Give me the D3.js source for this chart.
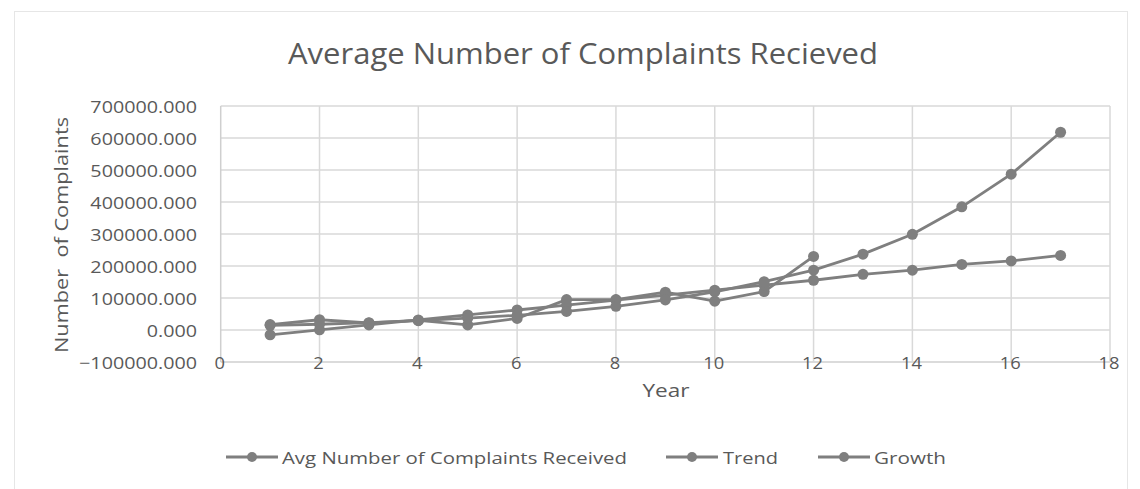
<!DOCTYPE html>
<html>
<head>
<meta charset="utf-8">
<script src="https://cdn.jsdelivr.net/npm/d3@7"></script>
<style>
  html, body { margin: 0; padding: 0; background: #fff; }
  svg { display: block; }
  text { font-family: "Open Sans", "Noto Sans", sans-serif; fill: #595959; }
</style>
</head>
<body>
<svg id="chart" width="1140" height="489"></svg>
<script>
// Year index shared by all series
const years = [1, 2, 3, 4, 5, 6, 7, 8, 9, 10, 11, 12, 13, 14, 15, 16, 17];

// Observed averages (years 1-12)
const avgReceived = [17000, 32000, 22000, 30000, 16000, 36000, 95000, 95000, 118000, 90000, 120000, 230000];

// Linear trend projection
const trend = [-15000, 500, 16000, 31500, 47000, 62500, 78000, 93500, 109000, 124500, 140000, 155500, 174000, 187000, 205000, 216000, 233000];

// Exponential growth projection
const growth = [14500, 18000, 23000, 29000, 37000, 46000, 58000, 74000, 94000, 119000, 151000, 187000, 237000, 299000, 385000, 487000, 618000];

const seriesNames = ["Avg Number of Complaints Received", "Trend", "Growth"];
const xTicks = [0, 2, 4, 6, 8, 10, 12, 14, 16, 18];
const yTicks = [-100000, 0, 100000, 200000, 300000, 400000, 500000, 600000, 700000];

const titleText = "Average Number of Complaints Recieved";
const xTitle = "Year";
const yTitle = "Number\u00a0 of Complaints";

const svg = d3.select("#chart");
const lineColor = "#7f7f7f";
const gridColor = "#d9d9d9";

// frame around the chart area
svg.append("rect")
  .attr("x", 14.5).attr("y", 11.5)
  .attr("width", 1113).attr("height", 490)
  .attr("fill", "none").attr("stroke", "#e6e6e6").attr("stroke-width", 1);

const x = d3.scaleLinear().domain([0, 18]).range([220.7, 1110]);
const y = d3.scaleLinear().domain([-100000, 700000]).range([362, 106]);

// gridlines
const grid = svg.append("g");
grid.selectAll("line.h").data(yTicks).join("line")
  .attr("x1", x(0)).attr("x2", x(18))
  .attr("y1", d => y(d)).attr("y2", d => y(d))
  .attr("stroke", d => d === -100000 ? "#cfcfcf" : gridColor)
  .attr("stroke-width", 1.5);
grid.selectAll("line.v").data(xTicks).join("line")
  .attr("x1", d => x(d)).attr("x2", d => x(d))
  .attr("y1", y(700000)).attr("y2", y(-100000))
  .attr("stroke", d => d === 0 ? "#cfcfcf" : gridColor)
  .attr("stroke-width", 1.5);

// y tick labels
const fmt = d3.format(".3f");
svg.append("g").selectAll("text").data(yTicks).join("text")
  .attr("transform", d => `translate(197,${y(d)}) scale(1.16,1)`)
  .attr("text-anchor", "end")
  .attr("dominant-baseline", "central")
  .style("font-size", "17px")
  .text(d => fmt(d));

// x tick labels (sit on the bottom axis line)
svg.append("g").selectAll("text").data(xTicks).join("text")
  .attr("transform", d => `translate(${x(d) - 1},${y(-100000)}) scale(1.08,1)`)
  .attr("text-anchor", "middle")
  .attr("dominant-baseline", "central")
  .style("font-size", "17px")
  .text(d => d);

// titles
svg.append("text")
  .attr("x", 583).attr("y", 64)
  .attr("text-anchor", "middle")
  .attr("textLength", 590).attr("lengthAdjust", "spacingAndGlyphs")
  .style("font-size", "30px")
  .text(titleText);

svg.append("text")
  .attr("x", 666).attr("y", 397)
  .attr("text-anchor", "middle")
  .attr("textLength", 47).attr("lengthAdjust", "spacingAndGlyphs")
  .style("font-size", "18px")
  .text(xTitle);

svg.append("text")
  .attr("transform", "translate(68,235) rotate(-90)")
  .attr("text-anchor", "middle")
  .attr("textLength", 236).attr("lengthAdjust", "spacingAndGlyphs")
  .style("font-size", "18px")
  .text(yTitle);

// series
const series = [
  { name: seriesNames[0], values: avgReceived },
  { name: seriesNames[1], values: trend },
  { name: seriesNames[2], values: growth }
];

const line = d3.line()
  .x((d, i) => x(years[i]))
  .y(d => y(d));

const plot = svg.append("g");
series.forEach(s => {
  const g = plot.append("g");
  g.append("path")
    .datum(s.values)
    .attr("d", line)
    .attr("fill", "none")
    .attr("stroke", lineColor)
    .attr("stroke-width", 2.8)
    .attr("stroke-linejoin", "round");
  g.selectAll("circle").data(s.values).join("circle")
    .attr("cx", (d, i) => x(years[i]))
    .attr("cy", d => y(d))
    .attr("r", 5.5)
    .attr("fill", lineColor);
});

// legend
const legendItems = [
  { name: seriesNames[0], x0: 226, tx: 282, len: 345 },
  { name: seriesNames[1], x0: 666, tx: 723, len: 55 },
  { name: seriesNames[2], x0: 818, tx: 874, len: 72 }
];
const ly = 457;
const legend = svg.append("g");
legendItems.forEach(it => {
  legend.append("line")
    .attr("x1", it.x0).attr("x2", it.x0 + 52)
    .attr("y1", ly).attr("y2", ly)
    .attr("stroke", lineColor).attr("stroke-width", 2.8);
  legend.append("circle")
    .attr("cx", it.x0 + 26).attr("cy", ly).attr("r", 5)
    .attr("fill", lineColor);
  legend.append("text")
    .attr("x", it.tx).attr("y", ly)
    .attr("dominant-baseline", "central")
    .attr("textLength", it.len).attr("lengthAdjust", "spacingAndGlyphs")
    .style("font-size", "17px")
    .text(it.name);
});
</script>
</body>
</html>
